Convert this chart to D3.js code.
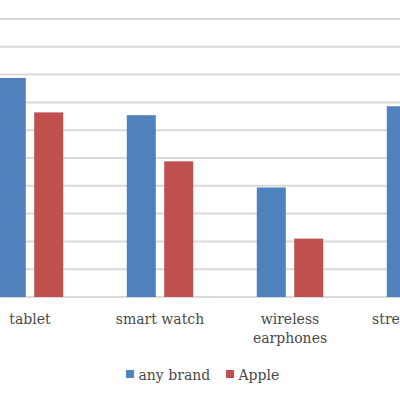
<!DOCTYPE html>
<html>
<head>
<meta charset="utf-8">
<script src="https://cdn.jsdelivr.net/npm/d3@7/dist/d3.min.js"></script>
<style>
  html, body { margin: 0; padding: 0; background: #fff; }
  svg { display: block; }
</style>
</head>
<body>
<svg id="chart" width="400" height="400"></svg>
<script>
const categories = ["tablet", "smart watch", "wireless earphones", "streaming TV"];
const seriesNames = ["any brand", "Apple"];
const anyBrand = [39.4, 32.7, 19.7, 34.3];
const apple = [33.2, 24.4, 10.5, 20.0];
const yTicks = [0, 5, 10, 15, 20, 25, 30, 35, 40, 45, 50];
const colors = ["#4f81bd", "#c0504d"];

const svg = d3.select("#chart");
const font = "'DejaVu Serif', serif";
const textColor = "#4a4a4a";

const y = d3.scaleLinear().domain([0, 50]).range([297, 19]);
const x0 = d3.scaleBand().domain(categories).range([-35, 485])
  .paddingInner(0.489).paddingOuter(0.2445);
const x1 = d3.scaleBand().domain(seriesNames).range([0, x0.bandwidth()])
  .paddingInner(0.225).paddingOuter(0);
const color = d3.scaleOrdinal().domain(seriesNames).range(colors);

// gridlines
svg.append("g").selectAll("line").data(yTicks).join("line")
  .attr("x1", -10).attr("x2", 410)
  .attr("y1", d => y(d)).attr("y2", d => y(d))
  .attr("stroke", "#d9d9d9").attr("stroke-width", 2);

// bars
const rows = categories.map((c, i) => ({ cat: c, values: [
  { s: seriesNames[0], v: anyBrand[i] },
  { s: seriesNames[1], v: apple[i] }
]}));

svg.append("g").selectAll("g").data(rows).join("g")
  .attr("transform", d => `translate(${x0(d.cat)},0)`)
  .selectAll("rect").data(d => d.values).join("rect")
  .attr("x", d => x1(d.s))
  .attr("width", x1.bandwidth())
  .attr("y", d => y(d.v))
  .attr("height", d => y(0) - y(d.v))
  .attr("fill", d => color(d.s));

// x axis labels (wrapped)
const maxW = 120;
const labels = svg.append("g").selectAll("text").data(categories).join("text")
  .attr("x", d => x0(d) + x0.bandwidth() / 2)
  .attr("y", 324)
  .attr("text-anchor", "middle")
  .attr("font-family", font).attr("font-size", 14)
  .attr("fill", textColor);

labels.each(function(d) {
  const t = d3.select(this);
  const words = d.split(" ");
  let line = [];
  let tspan = t.append("tspan").attr("x", t.attr("x")).attr("dy", 0);
  words.forEach(w => {
    line.push(w);
    tspan.text(line.join(" "));
    if (tspan.node().getComputedTextLength() > maxW && line.length > 1) {
      line.pop();
      tspan.text(line.join(" "));
      line = [w];
      tspan = t.append("tspan").attr("x", t.attr("x")).attr("dy", 19).text(w);
    }
  });
});

// legend
const legend = svg.append("g");
const legendItems = [
  { s: seriesNames[0], x: 126 },
  { s: seriesNames[1], x: 226 }
];
const li = legend.selectAll("g").data(legendItems).join("g")
  .attr("transform", d => `translate(${d.x},0)`);
li.append("rect").attr("x", 0).attr("y", 370).attr("width", 8).attr("height", 8)
  .attr("fill", d => color(d.s));
li.append("text").attr("x", 12.5).attr("y", 380)
  .attr("font-family", font).attr("font-size", 14).attr("fill", textColor)
  .text(d => d.s);
</script>
</body>
</html>
